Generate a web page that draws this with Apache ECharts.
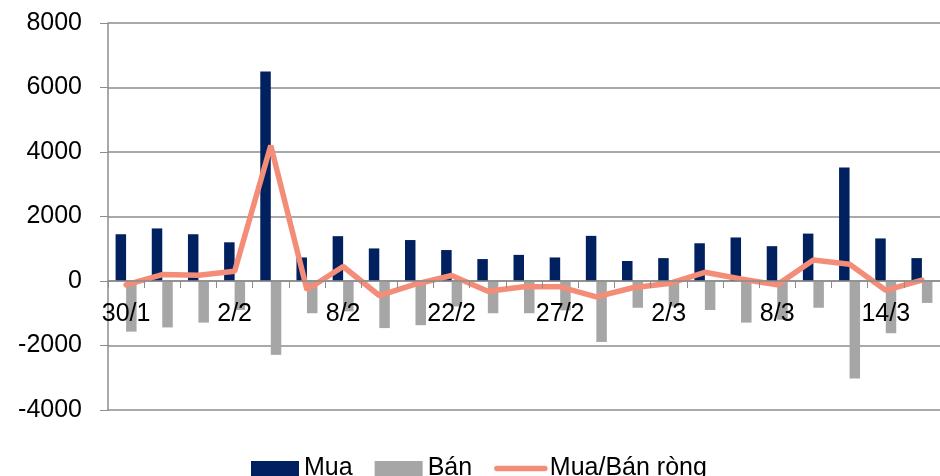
<!DOCTYPE html>
<html>
<head>
<meta charset="utf-8">
<script src="https://cdn.jsdelivr.net/npm/echarts@6/dist/echarts.min.js"></script>
<style>
  html, body { margin: 0; padding: 0; background: #fff; }
  #chart { width: 940px; height: 476px; }
</style>
</head>
<body>
<div id="chart"></div>
<script>
// ngày giao dịch
var ngay = ['30/1', '31/1', '1/2', '2/2', '5/2', '6/2', '8/2', '9/2', '14/2', '22/2', '23/2', '26/2',
  '27/2', '28/2', '1/3', '2/3', '5/3', '6/3', '8/3', '9/3', '12/3', '14/3', '15/3'];
// giá trị mua
var mua = [1450, 1630, 1450, 1200, 6500, 730, 1390, 1010, 1270, 960, 680, 810,
  730, 1400, 620, 710, 1170, 1350, 1080, 1470, 3520, 1320, 710];
// giá trị bán
var ban = [-1570, -1440, -1290, -900, -2290, -1000, -940, -1460, -1370, -790, -1000, -1000,
  -910, -1890, -830, -790, -900, -1290, -1200, -830, -3020, -1620, -680];
// mua/bán ròng
var rong = [-120, 200, 180, 300, 4200, -270, 450, -450, -100, 170, -320, -180,
  -180, -490, -210, -80, 270, 60, -120, 650, 520, -290, 30];
// nhãn trục tung
var yTicks = { min: -4000, max: 8000, step: 2000 };

var font = 'Liberation Sans, Arial, sans-serif';
var gridTop = 23, gridBottom = 66, chartH = 476;
// đưa trục hoành lên mức 0 (onZero không ăn ở đây)
var plotH = chartH - gridTop - gridBottom;
var zeroOffset = -plotH * (0 - yTicks.min) / (yTicks.max - yTicks.min);

var myChart = echarts.init(document.getElementById('chart'));
myChart.setOption({
  animation: false,
  grid: { left: 108, right: -7.5, top: gridTop, bottom: gridBottom, containLabel: false },
  legend: {
    left: 246,
    top: 451,
    itemWidth: 48,
    itemHeight: 15,
    itemGap: 22,
    textStyle: { color: '#000', fontSize: 25, fontFamily: font },
    data: [
      { name: 'Mua', icon: 'rect' },
      { name: 'Bán', icon: 'rect' },
      { name: 'Mua/Bán ròng', itemStyle: { opacity: 0 }, lineStyle: { width: 5.5, cap: 'round' } }
    ]
  },
  xAxis: {
    type: 'category',
    data: ngay,
    z: 10,
    position: 'bottom',
    offset: zeroOffset,
    axisLine: { onZero: false, lineStyle: { color: '#8c8c8c', width: 1.5 } },
    axisTick: { show: true, interval: 0, length: 7, lineStyle: { color: '#8c8c8c' } },
    axisLabel: {
      interval: 2,
      margin: 21,
      color: '#000',
      fontSize: 25,
      fontFamily: font
    },
    splitLine: { show: false }
  },
  yAxis: {
    type: 'value',
    min: yTicks.min,
    max: yTicks.max,
    interval: yTicks.step,
    axisLine: { show: true, lineStyle: { color: '#8c8c8c', width: 1.5 } },
    axisTick: { show: true, length: 8, lineStyle: { color: '#8c8c8c' } },
    axisLabel: {
      margin: 26,
      color: '#000',
      fontSize: 25,
      fontFamily: font,
      formatter: function (v) { return String(v); }
    },
    splitLine: { lineStyle: { color: '#8c8c8c', width: 1.5 } }
  },
  series: [
    {
      name: 'Mua',
      type: 'bar',
      barWidth: 10.5,
      barGap: '0%',
      itemStyle: { color: '#00205f' },
      data: mua
    },
    {
      name: 'Bán',
      type: 'bar',
      barWidth: 10.5,
      barGap: '0%',
      itemStyle: { color: '#a6a6a6' },
      data: ban
    },
    {
      name: 'Mua/Bán ròng',
      type: 'line',
      showSymbol: false,
      symbol: 'none',
      z: 5,
      lineStyle: { color: '#f38d78', width: 5.5, cap: 'round' },
      itemStyle: { color: '#f38d78' },
      data: rong
    }
  ]
});
</script>
</body>
</html>
